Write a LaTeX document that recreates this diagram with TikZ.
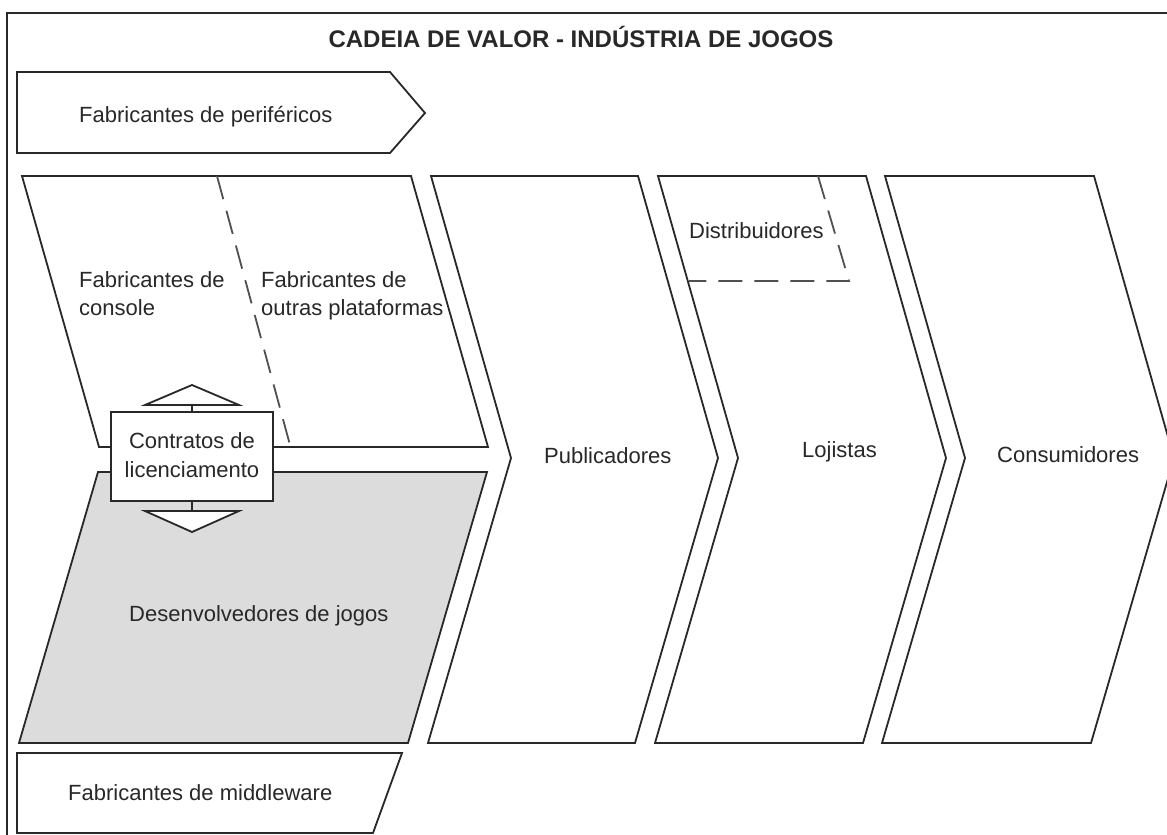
\documentclass[tikz,border=0pt]{standalone}
\usepackage{fontspec}
\setmainfont{Liberation Sans}
\definecolor{devgray}{RGB}{220,220,220}
\definecolor{ink}{RGB}{40,40,40}
\definecolor{dashink}{RGB}{80,80,80}
\begin{document}
\begin{tikzpicture}[x=1pt,y=-1pt,
  shp/.style={draw=ink,line width=1.8pt,line join=miter,fill=white},
  dsh/.style={draw=dashink,line width=1.8pt,dash pattern=on 24pt off 12pt},
  lbl/.style={font=\fontsize{22}{28}\selectfont,inner sep=0pt,anchor=base west,text=ink},
  clbl/.style={lbl,anchor=base},
  stem/.style={draw=ink,line width=1.8pt}
]
\useasboundingbox (0,0) rectangle (1167,835);
\fill[white] (0,0) rectangle (1167,835);

% outer frame
\draw[ink,line width=1.8pt] (7,840) -- (7,13) -- (1175,13);

% title
\node[font=\bfseries\fontsize{24}{28}\selectfont,inner sep=0pt,anchor=base,text=ink] (title) at (581,47) {CADEIA DE VALOR - INDÚSTRIA DE JOGOS};

% peripherals
\draw[shp] (17,72) -- (390,72) -- (425,113) -- (390,153) -- (17,153) -- cycle;
\node[lbl] (perif) at (79,122) {Fabricantes de periféricos};

% left block: platforms
\draw[shp] (22,176) -- (411,176) -- (488,447) -- (99,447) -- cycle;
\draw[dsh] (217,176) -- (290,445);
\node[lbl] (cons1) at (79,287) {Fabricantes de};
\node[lbl] (cons2) at (79,315) {console};
\node[lbl] (outr1) at (261,287) {Fabricantes de};
\node[lbl] (outr2) at (261,315) {outras plataformas};

% left block: developers
\draw[shp,fill=devgray] (98,472) -- (487,472) -- (408,743) -- (19,743) -- cycle;
\node[lbl] (desenv) at (129,621) {Desenvolvedores de jogos};

% chevrons
\foreach \L/\R in {431/638, 658/866, 885/1094}{
  \draw[shp] (\L,176) -- (\R,176) -- ({\R+80},458) -- ({\R-3},743) -- ({\L-3},743) -- ({\L+80},458) -- cycle;
}
\node[lbl] (pub) at (544,463) {Publicadores};
\node[lbl] (loj) at (802,457) {Lojistas};
\node[lbl] (consum) at (997,462) {Consumidores};

% distributors
\draw[dsh] (818,176) -- (849,281) -- (689,281);
\node[lbl] (dist) at (689,238) {Distribuidores};

% licensing box and arrows
\node[draw=ink,line width=1.8pt,fill=white,minimum width=162pt,minimum height=89pt,inner sep=0pt] (box) at (192,456.5) {};
\node[clbl] (contr1) at (192,448) {Contratos de};
\node[clbl] (contr2) at (192,477) {licenciamento};
\coordinate (upb) at (192,405);
\coordinate (dnb) at (192,511);
\draw[stem] (box.north) -- (upb);
\draw[stem] (box.south) -- (dnb);
\draw[shp] (145,405) -- (192,385) -- (239,405) -- cycle;
\draw[shp] (145,511) -- (192,532) -- (239,511) -- cycle;

% middleware
\draw[shp] (17,753) -- (402,753) -- (373,833) -- (17,833) -- cycle;
\node[lbl] (mid) at (68,800) {Fabricantes de middleware};
\end{tikzpicture}
\end{document}
